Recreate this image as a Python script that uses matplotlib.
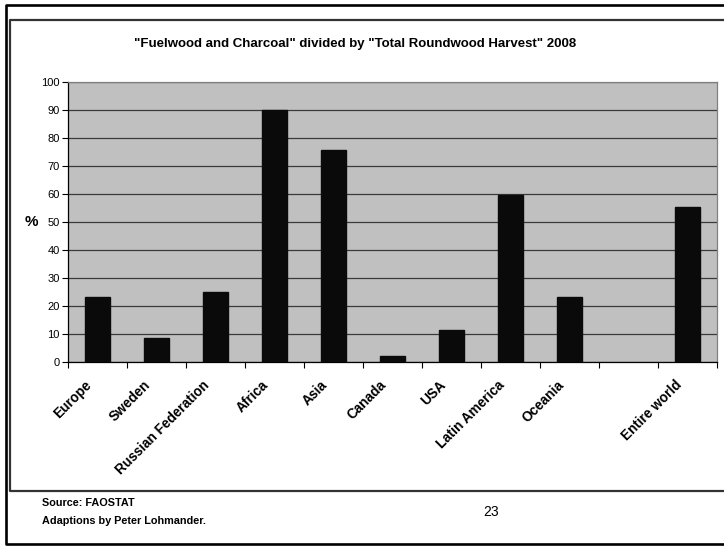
import matplotlib.pyplot as plt
import matplotlib.transforms as mtransforms
import numpy as np

plt.rcParams["font.family"] = ["Liberation Sans", "DejaVu Sans"]

regions = ["Europe", "Sweden", "Russian Federation", "Africa", "Asia", "Canada",
           "USA", "Latin America", "Oceania", "", "Entire world"]
share = [23.3, 8.6, 24.9, 90.0, 75.7, 2.0, 11.5, 59.6, 23.3, np.nan, 55.2]
yticks = list(range(0, 101, 10))

W, H = 724, 546
fig = plt.figure(figsize=(W / 100, H / 100), dpi=100)


def px(x, y):
    return x / W, 1 - y / H


# slide frame and chart box
x0, y0 = px(6, 5)
x1, y1 = px(730, 544)
fig.add_artist(plt.Line2D([x1, x0, x0, x1], [y0, y0, y1, y1],
                          transform=fig.transFigure, color="black", lw=1.9))
x0, y0 = px(10, 19.5)
x1, y1 = px(730, 490.5)
fig.add_artist(plt.Line2D([x1, x0, x0, x1], [y0, y0, y1, y1],
                          transform=fig.transFigure, color="#333333", lw=1.6))

l, t = px(68, 82)
r, b = px(717, 362)
ax = fig.add_axes([l, b, r - l, t - b])
ax.set_facecolor("#C0C0C0")

x = np.arange(len(regions))
ax.bar(x, share, width=0.435, color="#0a0a0a", edgecolor="#0a0a0a", zorder=3)

ax.set_xlim(-0.5, len(regions) - 0.5)
ax.set_ylim(0, 100)
ax.set_yticks(yticks)
ax.tick_params(axis="y", direction="out", length=4, width=0.8, labelsize=8, pad=2)
ax.yaxis.grid(True, color="#3a3a3a", lw=0.9, zorder=1)
ax.set_axisbelow(True)

ax.set_xticks(np.arange(-0.5, len(regions)), minor=False)
ax.set_xticklabels([])
ax.tick_params(axis="x", which="major", direction="out", length=4, width=0.8)
ax.set_xticks(x, minor=True)
ax.tick_params(axis="x", which="minor", length=0, pad=5)
labels = ax.set_xticklabels(regions, minor=True, rotation=45, ha="right",
                            va="top", fontsize=9.8, fontweight="bold")
# pull each rotated label so its end sits just below its bar
shift = mtransforms.ScaledTranslation(-3 / 100, -9 / 100, fig.dpi_scale_trans)
for lab in labels:
    lab.set_transform(lab.get_transform() + shift)

for side in ("left", "bottom"):
    ax.spines[side].set_color("black")
    ax.spines[side].set_linewidth(0.9)
for side in ("top", "right"):
    ax.spines[side].set_color("#808080")
    ax.spines[side].set_linewidth(0.9)

fx, fy = px(355, 44)
fig.text(fx, fy, '"Fuelwood and Charcoal" divided by "Total Roundwood Harvest" 2008',
         ha="center", va="center", fontsize=9.5, fontweight="bold")
fx, fy = px(31, 222)
fig.text(fx, fy, "%", ha="center", va="center", fontsize=11, fontweight="bold")

fx, fy = px(42, 503)
fig.text(fx, fy, "Source: FAOSTAT", ha="left", va="center", fontsize=7.8, fontweight="bold")
fx, fy = px(42, 521)
fig.text(fx, fy, "Adaptions by Peter Lohmander.", ha="left", va="center",
         fontsize=7.8, fontweight="bold")
fx, fy = px(491, 512)
fig.text(fx, fy, "23", ha="center", va="center", fontsize=10)

fig.savefig("out.png", dpi=100)
